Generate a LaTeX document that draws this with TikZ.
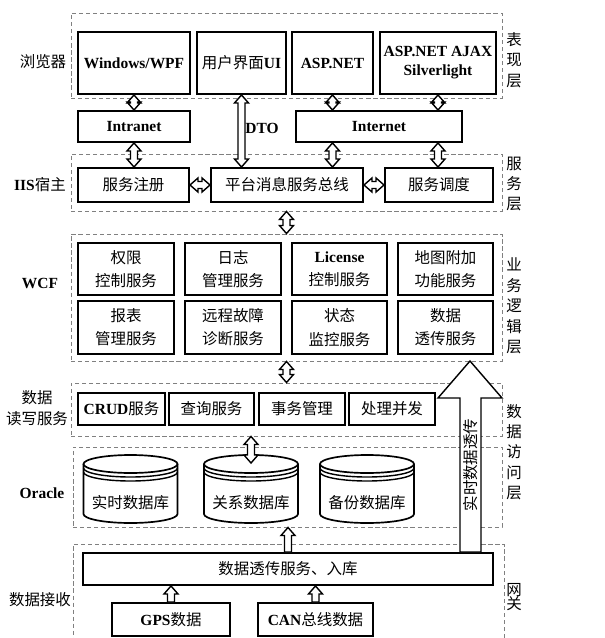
\documentclass[tikz,border=0pt]{standalone}
\usepackage{fontspec}
\setmainfont{Liberation Serif}
\newfontfamily\zh{Noto Sans CJK SC}
\usetikzlibrary{calc,fit}
\newlength\px
\setlength\px{0.025cm}
\tikzset{
  layer/.style={draw=gray, line width=0.7pt, dash pattern=on 3pt off 2pt, inner sep=0pt},
  box/.style={draw, line width=1.4pt, fill=white, inner sep=0pt, align=center, minimum width=#1\px},
  ht/.style={minimum height=#1\px},
  fat/.style={draw, line width=1pt, fill=white, line join=miter},
  tag/.style={align=center, inner sep=0pt},
}
% double headed hollow arrows: top/bottom, left/right
\newcommand\vdarr[2]{\draw[fat] (#1) -- ++(7,8) -- ++(-3.5,0) -- ($(#2)+(3.5,-8)$) -- ++(3.5,0) -- (#2) -- ++(-7,-8) -- ++(3.5,0) -- ($(#1)+(-3.5,8)$) -- ++(-3.5,0) -- cycle;}
\newcommand\hdarr[2]{\draw[fat] (#1) -- ++(8,-7) -- ++(0,3.5) -- ($(#2)+(-8,-3.5)$) -- ++(0,-3.5) -- (#2) -- ++(-8,7) -- ++(0,-3.5) -- ($(#1)+(8,3.5)$) -- ++(0,3.5) -- cycle;}
\newcommand\uparr[2]{\draw[fat] (#2) -- ++(7,8) -- ++(-3.5,0) -- ($(#1)+(3.5,0)$) -- ++(-7,0) -- ($(#2)+(-3.5,8)$) -- ++(-3.5,0) -- cycle;}
\newcommand\dbcyl[3]{%
  \filldraw[fill=white, line width=1.2pt] (#2-47,464) -- (#2-47,514) arc[start angle=180, end angle=360, x radius=47\px, y radius=9\px] -- (#2+47,464);
  \filldraw[fill=white, line width=1.2pt] (#2,464) ellipse [x radius=47\px, y radius=9\px];
  \draw[line width=1pt] (#2-47,468) arc[start angle=180, end angle=360, x radius=47\px, y radius=9\px]
    (#2-47,472) arc[start angle=180, end angle=360, x radius=47\px, y radius=9\px];
  \node (#1) at (#2,503) {\zh #3};}
\begin{document}
\begin{tikzpicture}[x=1\px, y=-1\px, every node/.style={font=\fontsize{11}{14.5}\selectfont}]
\useasboundingbox (0,0) rectangle (605,638);
% layers
\node[layer, fit={(71,13) (502,98)}] (pres) {};
\node[layer, fit={(71,154) (502,211)}] (svc) {};
\node[layer, fit={(71,234) (502,361)}] (wcf) {};
\node[layer, fit={(71,383) (502,436)}] (dal) {};
\node[layer, fit={(73,447) (502,527)}] (orcl) {};
\node[layer, fit={(73,544) (504,650)}] (gate) {};
% presentation
\node[box=112, ht=62] (win) at (134,63) {\textbf{Windows/WPF}};
\node[box=89, ht=62] (ui) at (241.5,63) {{\zh 用户界面}\textbf{UI}};
\node[box=81, ht=62] (asp) at (332.5,63) {\textbf{ASP.NET}};
\node[box=116, ht=62] (ajax) at (438,63) {\textbf{ASP.NET AJAX}\\[-1pt]\textbf{Silverlight}};
\node[box=112, ht=31] (intra) at (134,126.5) {\textbf{Intranet}};
\node[box=166, ht=31] (inter) at (379,126.5) {\textbf{Internet}};
\node[tag] (dto) at (262,128) {\textbf{DTO}};
% service
\node[box=111, ht=34] (reg) at (133.5,185) {\zh 服务注册};
\node[box=152, ht=34] (bus) at (287,185) {\zh 平台消息服务总线};
\node[box=108, ht=34] (sched) at (439,185) {\zh 服务调度};
% business logic
\node[box=96, ht=52] (auth) at (126,269) {\zh 权限\\[2pt]\zh 控制服务};
\node[box=96, ht=52] (log) at (233,269) {\zh 日志\\[2pt]\zh 管理服务};
\node[box=95, ht=52] (lic) at (339.5,269) {\textbf{License}\\[2pt]\zh 控制服务};
\node[box=95, ht=52] (map) at (445.5,269) {\zh 地图附加\\[2pt]\zh 功能服务};
\node[box=96, ht=53] (rep) at (126,327.5) {\zh 报表\\[2pt]\zh 管理服务};
\node[box=96, ht=53] (diag) at (233,327.5) {\zh 远程故障\\[2pt]\zh 诊断服务};
\node[box=95, ht=53] (mon) at (339.5,327.5) {\zh 状态\\[2pt]\zh 监控服务};
\node[box=95, ht=53] (pass) at (445.5,327.5) {\zh 数据\\[2pt]\zh 透传服务};
% data access
\node[box=87, ht=32] (crud) at (121.5,409) {\textbf{CRUD}{\zh 服务}};
\node[box=85, ht=32] (qry) at (211.5,409) {\zh 查询服务};
\node[box=86, ht=32] (trans) at (302,409) {\zh 事务管理};
\node[box=86, ht=32] (conc) at (392,409) {\zh 处理并发};
\dbcyl{rtdb}{130.5}{实时数据库}
\dbcyl{reldb}{251}{关系数据库}
\dbcyl{bakdb}{367}{备份数据库}
\coordinate (reltop) at (251,463);
% gateway
\node[box=410, ht=32] (gw) at (288,569) {\zh 数据透传服务、入库};
\node[box=118, ht=33] (gps) at (171,619.5) {\textbf{GPS}{\zh 数据}};
\node[box=115, ht=33] (can) at (315.5,619.5) {\textbf{CAN}{\zh 总线数据}};
% left labels
\node[tag] (l1) at (43,62) {\zh 浏览器};
\node[tag] (l2) at (40,185) {\textbf{IIS}{\zh 宿主}};
\node[tag] (l3) at (40,283) {\textbf{WCF}};
\node[tag] (l4) at (37,408) {\zh 数据\\\zh 读写服务};
\node[tag] (l5) at (42,493) {\textbf{Oracle}};
\node[tag] (l6) at (40,600) {\zh 数据接收};
% right labels
\node[tag] (r1) at (514,60) {\zh 表\\\zh 现\\\zh 层};
\node[tag] (r2) at (514,184) {\zh 服\\\zh 务\\\zh 层};
\node[tag] (r3) at (514,306) {\zh 业\\\zh 务\\\zh 逻\\\zh 辑\\\zh 层};
\node[tag] (r4) at (514,452) {\zh 数\\\zh 据\\\zh 访\\\zh 问\\\zh 层};
\node[tag] (r5) at (514,597) {\zh 网\\[-4pt]\zh 关};
% connectors
\vdarr{win.south}{win.south |- intra.north}
\vdarr{ui.south}{ui.south |- bus.north}
\vdarr{asp.south}{asp.south |- inter.north}
\vdarr{ajax.south}{ajax.south |- inter.north}
\vdarr{intra.south}{intra.south |- reg.north}
\vdarr{asp.south |- inter.south}{asp.south |- bus.north}
\vdarr{ajax.south |- inter.south}{ajax.south |- sched.north}
\hdarr{reg.east}{bus.west}
\hdarr{bus.east}{sched.west}
\vdarr{svc.south}{svc.south |- wcf.north}
\vdarr{wcf.south}{wcf.south |- dal.north}
\vdarr{reltop |- dal.south}{reltop}
\uparr{gw.north}{gw.north |- orcl.south}
\uparr{gps.north}{gps.north |- gw.south}
\uparr{can.north}{can.north |- gw.south}
% real-time pass-through
\coordinate (rtop) at (470,361);
\draw[fat] (rtop) -- ++(32,37) -- ++(-21,0) -- ($(rtop |- gw.north)+(11,0)$) -- ++(-21,0) -- ($(rtop)+(-10,37)$) -- ++(-22,0) -- cycle;
\node[rotate=90, tag] (rtt) at (470.5,465) {\zh 实时数据透传};
\end{tikzpicture}
\end{document}
